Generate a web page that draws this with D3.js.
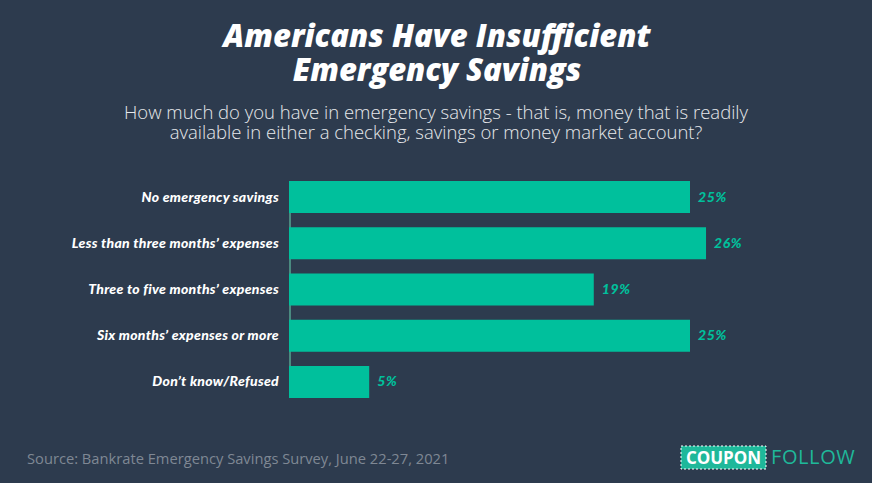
<!DOCTYPE html>
<html>
<head>
<meta charset="utf-8">
<title>Americans Have Insufficient Emergency Savings</title>
<style>
	body { margin: 0; background: #2d3b4e; }
	svg { display: block; }
</style>
</head>
<body>
	<script src="https://cdnjs.cloudflare.com/ajax/libs/d3/7.8.5/d3.min.js"></script>
	<script>

	var categories = ["No emergency savings", "Less than three months\u2019 expenses",
					  "Three to five months\u2019 expenses", "Six months\u2019 expenses or more",
					  "Don\u2019t know/Refused"];
	var values = [25, 26, 19, 25, 5];
	var titleLines = ["Americans Have Insufficient", "Emergency Savings"];
	var subLines = ["How much do you have in emergency savings - that is, money that is readily",
					"available in either a checking, savings or money market account?"];
	var source = "Source: Bankrate Emergency Savings Survey, June 22-27, 2021";

	var W = 872, H = 483;
	var teal = "#00c09c";

	var svg = d3.select('body').append('svg')
		.attr("width", W)
		.attr("height", H);

	svg.append('rect').attr('width', W).attr('height', H).attr('fill', '#2d3b4e');

	// title
	svg.append('g').selectAll('text').data(titleLines).enter().append('text')
		.attr('x', 437)
		.attr('y', function(d, i){ return 47 + i * 34; })
		.attr('text-anchor', 'middle')
		.attr('fill', '#fff')
		.style('font-family', '"Open Sans", sans-serif')
		.style('font-weight', 800)
		.style('font-style', 'italic')
		.style('font-size', '31px')
		.text(function(d){ return d; });

	svg.append('g').selectAll('text').data(subLines).enter().append('text')
		.attr('x', 436)
		.attr('y', function(d, i){ return 119 + i * 20; })
		.attr('text-anchor', 'middle')
		.attr('fill', '#e6e8eb')
		.style('font-family', '"Open Sans", sans-serif')
		.style('font-weight', 300)
		.style('font-size', '18.5px')
		.text(function(d){ return d; });

	// bars
	var x = d3.scaleLinear().domain([0, 25]).range([289, 690]);
	var y = d3.scaleBand().domain(categories).range([181, 398]).paddingInner(0.308).paddingOuter(0);

	svg.append('line')
		.attr('x1', 290).attr('x2', 290)
		.attr('y1', y(categories[0])).attr('y2', y(categories[4]) + y.bandwidth())
		.attr('stroke', '#4a8a80').attr('stroke-width', 2);

	var rows = svg.selectAll('g.row').data(categories).enter().append('g')
		.attr('class', 'row')
		.attr('transform', function(d){ return 'translate(0,' + y(d) + ')'; });

	rows.append('rect')
		.attr('x', x(0))
		.attr('width', function(d, i){ return x(values[i]) - x(0); })
		.attr('height', y.bandwidth())
		.attr('fill', teal);

	rows.append('text')
		.attr('x', 279)
		.attr('y', y.bandwidth() / 2 + 4.5)
		.attr('text-anchor', 'end')
		.attr('fill', '#fff')
		.style('font-family', 'Lato, sans-serif')
		.style('font-weight', 900)
		.style('font-style', 'italic')
		.style('font-size', '14px')
		.style('letter-spacing', '0.3px')
		.text(function(d){ return d; });

	rows.append('text')
		.attr('x', function(d, i){ return x(values[i]) + 8; })
		.attr('y', y.bandwidth() / 2 + 4.5)
		.attr('fill', teal)
		.style('font-family', 'Lato, sans-serif')
		.style('font-weight', 900)
		.style('font-style', 'italic')
		.style('font-size', '14px')
		.style('letter-spacing', '0.6px')
		.text(function(d, i){ return values[i] + '%'; });

	// footer
	svg.append('text')
		.attr('x', 27).attr('y', 464)
		.attr('fill', '#7f8894')
		.style('font-family', '"Open Sans", sans-serif')
		.style('font-size', '14.7px')
		.text(source);

	svg.append('rect')
		.attr('x', 681).attr('y', 446).attr('width', 85).attr('height', 23)
		.attr('fill', '#1fb89a')
		.attr('stroke', '#fff').attr('stroke-width', 1)
		.attr('stroke-dasharray', '2,2');
	svg.append('text')
		.attr('x', 723.5).attr('y', 464)
		.attr('text-anchor', 'middle')
		.attr('fill', '#fff')
		.style('font-family', '"Open Sans", sans-serif')
		.style('font-weight', 700)
		.style('font-size', '17px')
		.text('COUPON');
	svg.append('text')
		.attr('x', 771).attr('y', 464)
		.attr('fill', '#1fb89a')
		.style('font-family', '"Open Sans", sans-serif')
		.style('font-size', '20px')
		.style('letter-spacing', '0.6px')
		.text('FOLLOW');

	</script>
</body>
</html>
